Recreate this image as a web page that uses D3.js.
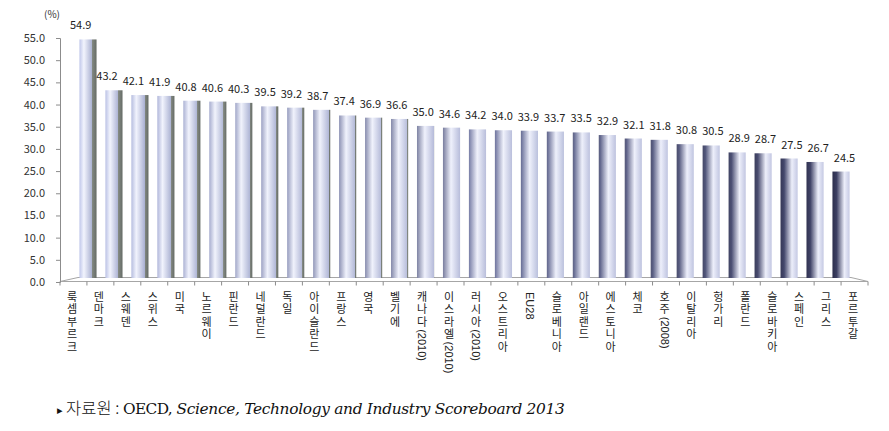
<!DOCTYPE html>
<html>
<head>
<meta charset="utf-8">
<script src="https://cdn.jsdelivr.net/npm/d3@7"></script>
<style>
  html, body { margin: 0; padding: 0; background: #fff; }
  svg { display: block; }
</style>
</head>
<body>
<div id="chart"></div>
<script>
const categories = ["룩셈부르크", "덴마크", "스웨덴", "스위스", "미국", "노르웨이", "핀란드", "네덜란드",
    "독일", "아이슬란드", "프랑스", "영국", "벨기에", "캐나다(2010)", "이스라엘(2010)", "러시아(2010)",
    "오스트리아", "EU28", "슬로베니아", "아일랜드", "에스토니아", "체코", "호주(2008)", "이탈리아",
    "헝가리", "폴란드", "슬로바키아", "스페인", "그리스", "포르투갈"];
const values = [54.9, 43.2, 42.1, 41.9, 40.8, 40.6, 40.3, 39.5, 39.2, 38.7, 37.4, 36.9, 36.6, 35.0,
    34.6, 34.2, 34.0, 33.9, 33.7, 33.5, 32.9, 32.1, 31.8, 30.8, 30.5, 28.9, 28.7, 27.5, 26.7, 24.5];
const yTicks = [0, 5, 10, 15, 20, 25, 30, 35, 40, 45, 50, 55];
const unitLabel = "(%)";

const width = 889;
const height = 431;
const data = categories.map((c, i) => ({ "name": c, "value": values[i], "i": i }));

const svg = d3.select("#chart")
    .append("svg")
        .attr("width", width)
        .attr("height", height);

// value axis on the back wall and a slightly different one for the bars
const y = d3.scaleLinear().domain([0, 55]).range([282, 38]);
const yBar = d3.scaleLinear().domain([0, 55]).range([278, 39]);

// front edge of the floor, bar row, and value labels (perspective)
const xFront = d3.scaleBand().domain(categories).range([60, 868]);
const xBar = d3.scaleBand().domain(categories).range([75, 854]).paddingInner(0.34).paddingOuter(0.17);
const xLabel = d3.scaleBand().domain(categories).range([67.5, 857.7]);

const defs = svg.append("defs");

const leftCol = d3.interpolateRgb("#c4cbee", "#2a2c4a");
const midCol = d3.interpolateRgb("#f2f4fd", "#eceefa");
const rightCol = d3.interpolateRgb("#aab1d2", "#c6cae4");

data.forEach(d => {
    const cx = xBar(d.name) + xBar.bandwidth() / 2;
    const t = Math.max(-1, Math.min(1, (cx - 460) / 390));
    const u = (t + 1) / 2;
    const side = 0.28 * Math.max(0, -t);
    const g = defs.append("linearGradient")
        .attr("id", `bar${d.i}`)
        .attr("x1", 0).attr("x2", 1).attr("y1", 0).attr("y2", 0);
    const stops = [
        [0, leftCol(u)],
        [Math.max(0.05, 0.25 + 0.45 * u), midCol(u)],
        [1 - side - 0.001, rightCol(u)],
    ];
    if (side > 0.02) {
        stops.push([1 - side, "#858b84"]);
        stops.push([1, "#656b66"]);
    } else {
        stops.push([1, d3.interpolateRgb(rightCol(u), "#9aa0c0")(0.3)]);
    }
    if (t > 0) {
        stops.splice(1, 0, [0.25 * t, d3.interpolateRgb("#3a3d60", "#7c82aa")(1 - t)]);
    }
    stops.forEach(s => g.append("stop").attr("offset", s[0]).attr("stop-color", s[1]));
});

// floor
const floorFront = 281.5;
const floorBack = 277.5;
svg.append("path")
    .attr("d", `M60,${floorFront} L868,${floorFront} L851,${floorBack} L78,${floorBack} Z`)
    .attr("fill", "none")
    .attr("stroke", "#a6a6a6")
    .attr("stroke-width", 1);

// category ticks under the front edge
svg.append("g")
    .selectAll("line")
    .data(categories.concat([null]))
    .join("line")
        .attr("x1", (d, i) => 60 + i * xFront.step())
        .attr("x2", (d, i) => 60 + i * xFront.step())
        .attr("y1", floorFront)
        .attr("y2", floorFront + 4)
        .attr("stroke", "#8c8c8c");

// y axis
const yAxis = svg.append("g")
    .attr("transform", "translate(60,0)")
    .call(d3.axisLeft(y).tickValues(yTicks).tickFormat(d3.format(".1f")).tickSize(4).tickPadding(11));
yAxis.select(".domain").attr("stroke", "#8c8c8c");
yAxis.selectAll(".tick line").attr("stroke", "#8c8c8c");
yAxis.selectAll(".tick text")
    .style("font-family", "'Noto Sans CJK KR', 'Noto Sans', sans-serif")
    .style("font-size", "11px")
    .attr("fill", "#333");

svg.append("text")
    .text(unitLabel)
    .attr("x", 52)
    .attr("y", 18)
    .attr("text-anchor", "middle")
    .style("font-family", "'Noto Sans CJK KR', sans-serif")
    .style("font-size", "10px")
    .attr("fill", "#333");

// bars
svg.append("g")
    .selectAll("rect")
    .data(data)
    .join("rect")
        .attr("x", d => xBar(d.name))
        .attr("y", d => yBar(d.value))
        .attr("width", xBar.bandwidth())
        .attr("height", d => yBar(0) - yBar(d.value))
        .attr("fill", d => `url(#bar${d.i})`);

// value labels
svg.append("g")
    .selectAll("text")
    .data(data)
    .join("text")
        .text(d => d3.format(".1f")(d.value))
        .attr("x", d => xLabel(d.name) + xLabel.bandwidth() / 2)
        .attr("y", d => yBar(d.value) - 10)
        .attr("text-anchor", "middle")
        .style("font-family", "'Noto Sans CJK KR', 'Noto Sans', sans-serif")
        .style("font-size", "11px")
        .attr("fill", "#222");

// vertical category labels: each hangul upright, latin runs turned sideways.
// Liberation Sans first so the line box stays inside one character step.
const catSize = 11;
const charStep = 12.4;
const catGroup = svg.append("g")
    .attr("fill", "#222")
    .style("font-family", "'Liberation Sans', 'Noto Sans CJK KR', sans-serif")
    .style("font-size", `${catSize}px`);

data.forEach(d => {
    const cx = xFront(d.name) + xFront.bandwidth() / 2 - 1.5;
    const runs = d.name.match(/[\uAC00-\uD7A3]|[^\uAC00-\uD7A3]+/g);
    let cy = 291;
    runs.forEach(r => {
        if (/[\uAC00-\uD7A3]/.test(r)) {
            catGroup.append("text")
                .text(r)
                .attr("x", cx)
                .attr("y", cy + 9.9)
                .attr("text-anchor", "middle");
            cy += charStep;
        } else {
            const bx = cx - 4;
            const t = catGroup.append("text")
                .text(r)
                .attr("x", bx)
                .attr("y", cy + 1)
                .attr("transform", `rotate(90 ${bx} ${cy + 1})`);
            cy += t.node().getComputedTextLength() + 1;
        }
    });
});

// source note, sized to span the same width as in the picture
const note = svg.append("text")
    .attr("x", 57)
    .attr("y", 414)
    .style("font-family", "'DejaVu Serif', 'Noto Sans CJK KR', serif")
    .style("font-size", "14px")
    .attr("fill", "#111");
note.append("tspan").text("▸ ").style("font-family", "'DejaVu Sans', sans-serif").style("font-size", "0.72em");
note.append("tspan").text("자료원 : ").style("font-family", "'Noto Sans CJK KR', sans-serif").style("font-size", "1.07em").style("font-weight", "300");
note.append("tspan").text("OECD, ").style("letter-spacing", "-0.04em");
note.append("tspan").text("Science, Technology and Industry Scoreboard 2013").style("font-style", "italic").style("letter-spacing", "-0.02em");
const noteLen = note.node().getComputedTextLength();
note.style("font-size", `${14 * 508 / noteLen}px`);
</script>
</body>
</html>
